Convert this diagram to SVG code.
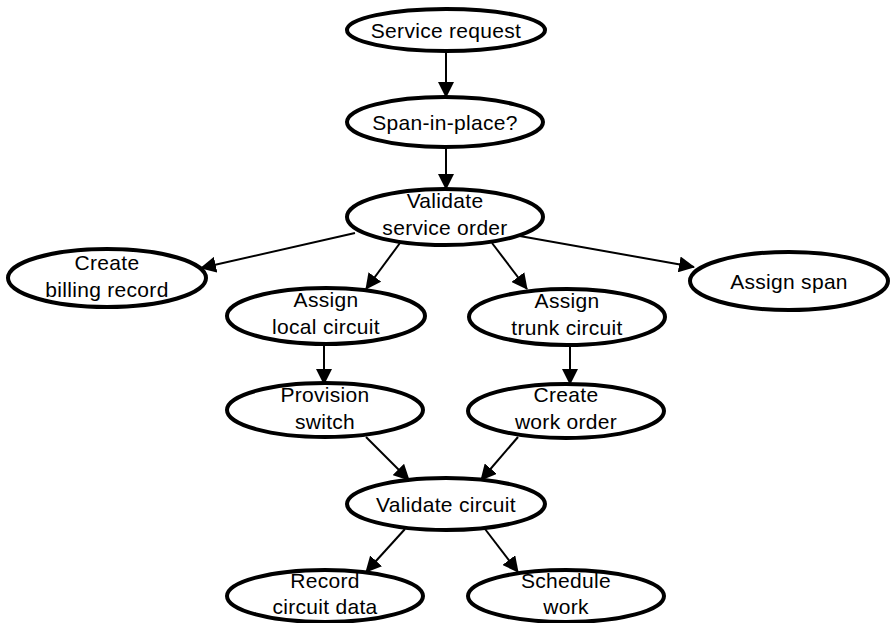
<svg xmlns="http://www.w3.org/2000/svg" width="890" height="623" viewBox="0 0 890 623">
<style>
.n ellipse{fill:#fff;stroke:#000;stroke-width:4}
.n text{font-family:"Liberation Sans",Arial,sans-serif;font-size:21px;letter-spacing:0.3px;text-anchor:middle;fill:#000}
#edges line{stroke:#000;stroke-width:2;marker-end:url(#ah)}
</style>
<defs>
<marker id="ah" viewBox="0 0 16 16" refX="15" refY="8" markerWidth="16" markerHeight="16" markerUnits="userSpaceOnUse" orient="auto">
<path d="M0,0 L16,8 L0,16 z" fill="#000"/>
</marker>
</defs>
<rect width="890" height="623" fill="#fff"/>
<g id="edges">
<line x1="446" y1="51" x2="446" y2="97"/>
<line x1="446" y1="147" x2="446" y2="189"/>
<line x1="355" y1="233" x2="201" y2="268"/>
<line x1="514" y1="235" x2="694" y2="267"/>
<line x1="400" y1="243" x2="366" y2="289"/>
<line x1="492" y1="243" x2="527" y2="289"/>
<line x1="324" y1="345" x2="324" y2="384"/>
<line x1="570" y1="346" x2="570" y2="384"/>
<line x1="366" y1="437" x2="409" y2="480"/>
<line x1="518" y1="437" x2="481" y2="480"/>
<line x1="405" y1="529" x2="366" y2="572"/>
<line x1="485" y1="529" x2="518" y2="572"/>
</g>
<g id="n1" class="n"><ellipse cx="446" cy="30" rx="99" ry="21"/><text x="446" y="38">Service request</text></g>
<g id="n2" class="n"><ellipse cx="445" cy="122" rx="98" ry="25"/><text x="445" y="130">Span-in-place?</text></g>
<g id="n3" class="n"><ellipse cx="445" cy="217" rx="98" ry="28"/><text x="445" y="208">Validate</text><text x="445" y="235">service order</text></g>
<g id="n4" class="n"><ellipse cx="107" cy="278" rx="99" ry="29"/><text x="107" y="270">Create</text><text x="107" y="297">billing record</text></g>
<g id="n5" class="n"><ellipse cx="789" cy="281" rx="99" ry="29"/><text x="789" y="289">Assign span</text></g>
<g id="n6" class="n"><ellipse cx="326" cy="316" rx="99" ry="28"/><text x="326" y="307">Assign</text><text x="326" y="334">local circuit</text></g>
<g id="n7" class="n"><ellipse cx="567" cy="317" rx="98" ry="28"/><text x="567" y="308">Assign</text><text x="567" y="335">trunk circuit</text></g>
<g id="n8" class="n"><ellipse cx="325" cy="410" rx="98" ry="27"/><text x="325" y="402">Provision</text><text x="325" y="429">switch</text></g>
<g id="n9" class="n"><ellipse cx="566" cy="411" rx="98" ry="27"/><text x="566" y="402">Create</text><text x="566" y="429">work order</text></g>
<g id="n10" class="n"><ellipse cx="446" cy="504" rx="99" ry="26"/><text x="446" y="512">Validate circuit</text></g>
<g id="n11" class="n"><ellipse cx="325" cy="596" rx="98" ry="26"/><text x="325" y="588">Record</text><text x="325" y="614">circuit data</text></g>
<g id="n12" class="n"><ellipse cx="566" cy="596" rx="98" ry="26"/><text x="566" y="588">Schedule</text><text x="566" y="614">work</text></g>
</svg>
